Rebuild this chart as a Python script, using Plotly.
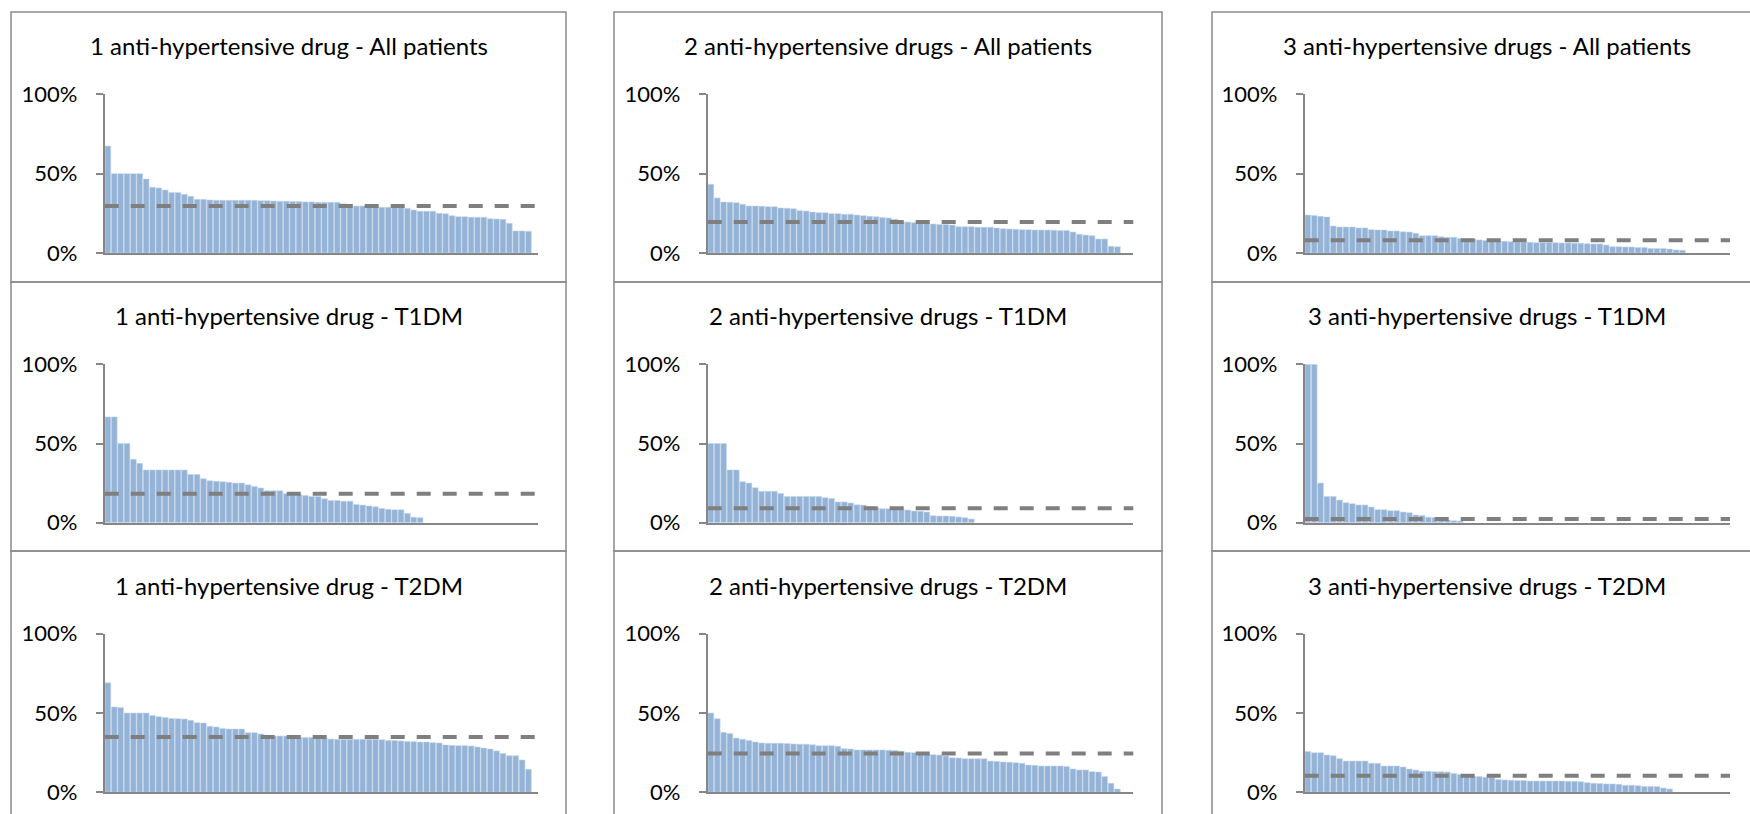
import plotly.graph_objects as go

W, H = 1750, 814

drugs = ["1 anti-hypertensive drug", "2 anti-hypertensive drugs", "3 anti-hypertensive drugs"]
groups = ["All patients", "T1DM", "T2DM"]
n_categories = [68, 67, 67]

# share per centre, sorted descending (%)
one_all = [67.4, 50, 50, 50, 50, 50, 46.6, 41.4, 41.0, 39.7, 38.2, 38.2, 37.0, 35.7, 33.8, 33.8, 33.4,
           33.2, 33.2, 33.2, 33.2, 33.2, 33.2, 33.2, 33.0, 33.0, 32.8, 32.6, 32.6, 32.4, 32.4, 32.2, 32.2,
           31.9, 31.9, 31.9, 31.9, 31.0, 30.5, 29.6, 29.6, 29.4, 29.2, 28.8, 28.8, 28.8, 28.6, 28.2, 27.1,
           26.3, 26.3, 26.3, 25.0, 24.8, 23.5, 22.9, 22.9, 22.5, 22.5, 22.5, 21.6, 21.4, 21.2, 18.7, 13.9,
           13.9, 13.7]
two_all = [43.3, 34.7, 32.1, 31.9, 31.7, 30.7, 29.6, 29.6, 29.4, 29.2, 29.2, 28.4, 28.2, 27.9, 26.7, 26.5,
           25.8, 25.4, 25.4, 24.8, 24.8, 24.4, 24.4, 23.9, 23.5, 23.1, 22.9, 22.3, 22.1, 21.2, 19.7, 19.5,
           19.1, 18.9, 18.7, 18.3, 17.9, 17.9, 17.6, 16.6, 16.6, 16.6, 16.2, 16.2, 16.2, 15.8, 15.3, 15.1,
           14.9, 14.7, 14.7, 14.5, 14.5, 14.5, 14.3, 14.1, 14.1, 13.2, 11.8, 11.3, 10.9, 8.8, 8.8, 4.2, 4.0]
three_all = [23.9, 23.7, 23.1, 22.7, 17.0, 16.4, 16.4, 16.4, 15.8, 15.8, 14.7, 14.5, 14.5, 13.9, 13.9, 13.4,
             13.2, 12.4, 10.9, 10.9, 10.9, 10.3, 9.9, 9.9, 9.2, 9.0, 8.8, 8.2, 7.8, 7.8, 7.6, 7.4, 7.1, 6.9,
             6.9, 6.7, 6.5, 6.5, 6.5, 6.5, 6.3, 6.3, 6.1, 6.1, 5.9, 5.7, 5.7, 5.0, 4.0, 4.0, 3.8, 3.8, 3.4,
             3.4, 2.9, 2.9, 2.9, 2.5, 1.9, 1.7]
one_t1 = [66.8, 66.8, 50, 50, 40, 37.5, 33.3, 33.3, 33.3, 33.3, 33.3, 33.3, 33.3, 30.5, 30.5, 27.8, 26.5,
          26.1, 25.9, 25.5, 25, 25, 23.9, 22.9, 21.9, 20.2, 20.2, 20.2, 18.3, 18.3, 17.7, 17.1, 16.6, 16.6,
          15.1, 14.0, 14.0, 13.6, 13.6, 11.5, 11.1, 10.6, 10.0, 8.9, 8.5, 8.1, 8.1, 5.9, 3.4, 3.2]
two_t1 = [50, 50, 50, 33.3, 33.3, 25.9, 25, 22.1, 19.8, 19.8, 19.8, 18.5, 16.6, 16.6, 16.6, 16.6, 16.6,
          16.6, 15.8, 15.2, 13.1, 13.1, 12.5, 11.3, 11.1, 10.1, 9.5, 8.8, 8.8, 8.4, 8.2, 8.0, 7.4, 7.2, 6.7,
          4.4, 4.2, 4.2, 4.0, 3.6, 3.2, 2.3]
three_t1 = [100, 100, 25, 16.6, 16.6, 14.3, 12.6, 12.0, 11.2, 11.2, 9.9, 8.2, 8.2, 7.6, 7.6, 6.7, 6.3, 4.8,
            4.6, 3.4, 3.2, 2.7, 1.7, 1.3, 1.1]
one_t2 = [69.1, 53.8, 53.4, 50, 50, 50, 50, 48.5, 47.7, 47.1, 46.6, 46.4, 46.2, 45.4, 43.9, 43.7, 41.6, 41.2,
          40.3, 39.9, 39.9, 39.9, 37.6, 37.6, 36.8, 36.1, 35.5, 35.5, 35.5, 35.3, 34.7, 34.5, 34.5, 34.0,
          34.0, 33.6, 33.4, 33.4, 33.4, 33.4, 33.4, 33.4, 33.4, 33.2, 32.6, 32.6, 32.4, 32.1, 31.9, 31.7,
          31.7, 31.3, 31.1, 29.8, 29.6, 29.4, 29.4, 29.2, 28.6, 27.9, 27.3, 26.1, 24.4, 23.1, 23.1, 20.4, 14.5]
two_t2 = [50, 46.4, 37.8, 37.0, 34.2, 33.4, 32.6, 31.7, 31.1, 30.9, 30.9, 30.9, 30.7, 30.5, 30.3, 30.3, 30.0,
          29.4, 29.4, 29.4, 29.0, 27.5, 27.3, 26.7, 26.7, 26.7, 26.7, 26.7, 26.5, 26.3, 25.8, 25.2, 25.0,
          24.8, 24.2, 23.7, 23.5, 22.9, 21.8, 21.6, 21.2, 21.2, 21.2, 21.2, 19.7, 19.5, 19.1, 18.9, 18.7,
          18.3, 17.2, 17.0, 16.6, 16.6, 16.6, 16.6, 16.2, 14.7, 14.1, 14.1, 13.0, 12.8, 9.9, 5.7, 2.1]
three_t2 = [25.8, 25.0, 25.0, 23.5, 23.1, 21.2, 19.7, 19.7, 19.7, 19.7, 18.3, 18.3, 16.6, 16.6, 16.6, 16.0,
            14.7, 14.1, 13.2, 13.2, 13.0, 13.0, 12.8, 11.8, 11.3, 10.3, 10.1, 9.9, 9.5, 9.5, 8.0, 7.8, 7.6,
            7.4, 7.4, 7.1, 7.1, 7.1, 7.1, 7.1, 7.1, 6.9, 6.9, 6.7, 6.1, 5.7, 5.5, 5.3, 5.3, 5.0, 4.4, 4.4,
            4.2, 3.6, 3.6, 3.6, 2.7, 2.1]

# overall average (dashed line, %)
avg_all = [29.6, 19.5, 8.0]
avg_t1 = [18.3, 9.2, 2.3]
avg_t2 = [34.9, 24.4, 10.5]

panels = [
    [one_all, two_all, three_all],
    [one_t1, two_t1, three_t1],
    [one_t2, two_t2, three_t2],
]
averages = [avg_all, avg_t1, avg_t2]

# layout in pixels
col_axis = [(104.7, 538.0), (707.7, 1133.3), (1304.7, 1730.0)]
row_axis = [(94.3, 253.0), (364.3, 522.7), (633.7, 792.3)]
col_box = [(11, 566), (614, 1162), (1212, 1762)]
row_box = [(12, 282), (282, 551), (551, 821)]
title_x = [289, 888, 1487]
title_y = [46, 315.5, 585]

BAR = "#95b3d7"
GREY = "#868686"
FONT = "Lato, Carlito, Calibri, sans-serif"


def fx(px):
    return px / W


def fy(py):
    return 1 - py / H


fig = go.Figure()
shapes = []
annotations = []
k = 0
for r, group in enumerate(groups):
    for c, drug in enumerate(drugs):
        k += 1
        sfx = "" if k == 1 else str(k)
        vals = [v / 100 for v in panels[r][c]]
        fig.add_trace(go.Bar(
            x=list(range(len(vals))),
            y=vals,
            marker=dict(color=BAR, line=dict(color="#c5d6ec", width=0.6)),
            xaxis="x" + sfx,
            yaxis="y" + sfx,
            showlegend=False,
            hoverinfo="y",
        ))
        fig.update_layout({
            "xaxis" + sfx: dict(
                domain=[fx(col_axis[c][0]), fx(col_axis[c][1])],
                anchor="y" + sfx,
                range=[-0.5, n_categories[c] - 0.5],
                showline=True, linecolor=GREY, linewidth=2,
                showticklabels=False, ticks="", showgrid=False, zeroline=False,
                automargin=False,
            ),
            "yaxis" + sfx: dict(
                domain=[fy(row_axis[r][1]), fy(row_axis[r][0])],
                anchor="x" + sfx,
                range=[0, 1],
                tickvals=[0, 0.5, 1],
                tickformat=".0%",
                ticks="outside", ticklen=7, tickwidth=2, tickcolor=GREY,
                ticklabelstandoff=14,
                showline=True, linecolor=GREY, linewidth=2,
                showgrid=False, zeroline=False,
                automargin=False,
                tickfont=dict(family=FONT, size=22, color="black"),
            ),
        })
        shapes.append(dict(
            type="line", xref="x" + sfx + " domain", yref="y" + sfx,
            x0=0, x1=1, y0=averages[r][c] / 100, y1=averages[r][c] / 100,
            line=dict(color="#7f7f7f", width=4, dash="14px,12px"),
            layer="above",
        ))
        shapes.append(dict(
            type="rect", xref="paper", yref="paper",
            x0=fx(col_box[c][0]), x1=fx(col_box[c][1]),
            y0=fy(row_box[r][1]), y1=fy(row_box[r][0]),
            line=dict(color="#8a8a8a", width=1.5),
            fillcolor="rgba(0,0,0,0)",
            layer="below",
        ))
        annotations.append(dict(
            text=f"{drug} - {group}",
            xref="paper", yref="paper",
            x=fx(title_x[c]), y=fy(title_y[r]),
            xanchor="center", yanchor="middle",
            showarrow=False,
            font=dict(family=FONT, size=24, color="black"),
        ))

fig.update_layout(
    width=W, height=H,
    margin=dict(l=0, r=0, t=0, b=0, autoexpand=False),
    paper_bgcolor="white",
    plot_bgcolor="white",
    bargap=0.1,
    shapes=shapes,
    annotations=annotations,
)

# drop the default page margin so the figure sits flush in the window
fig.write_html(
    "out.html",
    config={"displayModeBar": False},
    post_script="document.body.style.margin = '0';",
)
